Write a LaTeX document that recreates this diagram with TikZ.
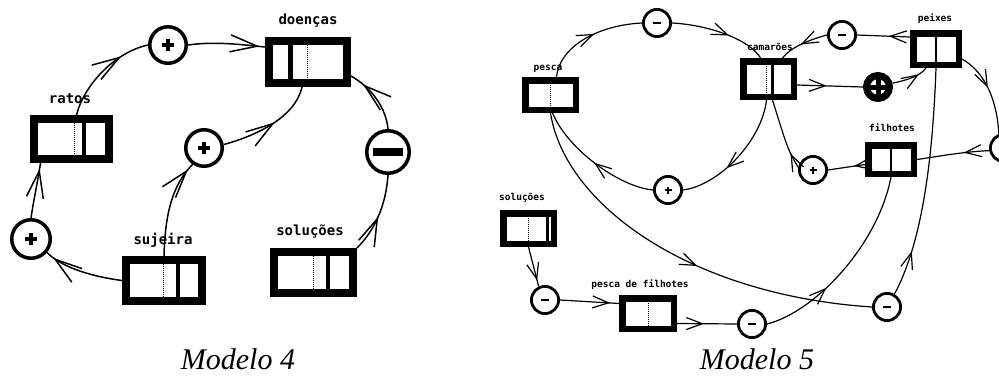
\documentclass[tikz,border=0pt]{standalone}
\usepackage{fontspec}
\setmainfont{Liberation Serif}
\newfontfamily\labmono{DejaVu Sans Mono}
\usetikzlibrary{arrows.meta,decorations.markings,calc}
\newcommand\mkplus[3]{\draw[line width=#3] ([xshift=-#2]#1.center) -- ([xshift=#2]#1.center) ([yshift=-#2]#1.center) -- ([yshift=#2]#1.center);}
\newcommand\mkminus[3]{\draw[line width=#3] ([xshift=-#2]#1.center) -- ([xshift=#2]#1.center);}
\tikzset{
  box4/.style={draw, fill=white, line width=8pt, inner sep=0pt},
  box5/.style={draw, fill=white, line width=6.5pt, inner sep=0pt},
  dv/.style={line width=1pt, densely dotted},
  lab4/.style={font=\labmono\bfseries\fontsize{14}{16}\selectfont, inner sep=0pt, anchor=base},
  lab5/.style={font=\labmono\bfseries\fontsize{9.5}{11}\selectfont, inner sep=0pt, anchor=base},
  mtitle/.style={font=\itshape\fontsize{30}{34}\selectfont, inner sep=0pt, anchor=base},
  c4/.style={circle, draw, fill=white, line width=3.5pt, inner sep=0pt, minimum size=#1},
  c5/.style={circle, draw, fill=white, line width=2.8pt, inner sep=0pt, minimum size=27.2pt},
  a4/.style={line width=1.5pt, postaction={decorate}, decoration={markings, mark=at position #1 with {\arrow{Straight Barb[length=27pt,width=17pt]}}}},
  a5/.style={line width=1.2pt, postaction={decorate}, decoration={markings, mark=at position #1 with {\arrow{Straight Barb[length=16pt,width=12pt]}}}},
}
\begin{document}
\begin{tikzpicture}[x=1pt,y=-1pt]
\useasboundingbox (0,0) rectangle (999,378);
% ---------------- Modelo 4 ----------------
\node[box4, minimum width=78pt, minimum height=42pt] (doencas) at (308,62) {};
\draw[line width=5pt] ([xshift=-18pt]doencas.north) -- ([xshift=-18pt]doencas.south);
\draw[dv] ([xshift=-1pt]doencas.north) -- ([xshift=-1pt]doencas.south);
\node[box4, minimum width=75pt, minimum height=40pt] (ratos) at (71.5,139) {};
\draw[dv] ([xshift=2.5pt]ratos.north) -- ([xshift=2.5pt]ratos.south);
\draw[line width=4pt] ([xshift=12.5pt]ratos.north) -- ([xshift=12.5pt]ratos.south);
\node[box4, minimum width=76pt, minimum height=41pt] (sujeira) at (164,280.5) {};
\draw[dv] ([xshift=-1pt]sujeira.north) -- ([xshift=-1pt]sujeira.south);
\draw[line width=4pt] ([xshift=14pt]sujeira.north) -- ([xshift=14pt]sujeira.south);
\node[box4, minimum width=79pt, minimum height=41pt] (solucoes) at (313.5,272.5) {};
\draw[dv] ([xshift=-0.5pt]solucoes.north) -- ([xshift=-0.5pt]solucoes.south);
\draw[line width=4pt] ([xshift=14.5pt]solucoes.north) -- ([xshift=14.5pt]solucoes.south);

\node[lab4] (Ldoencas) at (308,24) {doenças};
\node[lab4] (Lratos) at (70,103) {ratos};
\node[lab4] (Lsujeira) at (163,244) {sujeira};
\node[lab4] (Lsolucoes) at (310,235) {soluções};

\node[c4=36.5pt] (p1) at (168,45) {};
\node[c4=36.5pt] (p2) at (204,148) {};
\node[c4=38.5pt] (p3) at (31,239) {};
\node[c4=42.5pt] (m1) at (388,152) {};
\mkplus{p1}{6pt}{3.5pt}
\mkplus{p2}{6pt}{3.5pt}
\mkplus{p3}{6pt}{3.5pt}
\mkminus{m1}{15pt}{8pt}

\draw[a4=0.72] ([xshift=5pt]ratos.north) .. controls (84,85) and (115,52) .. (p1.west);
\draw[a4=0.93] (p1.east) .. controls (215,41) and (245,45) .. ([yshift=15pt]doencas.west);
\draw[a4=0.93] (sujeira.north) .. controls (165,215) and (172,185) .. (p2.235);
\draw[a4=0.55] (p2.10) .. controls (255,136) and (295,118) .. ([xshift=-6pt]doencas.south);
\draw[a4=0.47] (solucoes.north east) .. controls (375,230) and (386,205) .. (m1.south);
\draw[a4=0.78] (m1.north) .. controls (386,108) and (372,88) .. ([yshift=-14pt]doencas.east);
\draw[a4=0.9] (sujeira.west) .. controls (88,276) and (60,266) .. (p3.-40);
\draw[a4=0.9] (p3.north) .. controls (34,198) and (38,180) .. ([xshift=-31pt]ratos.south);

\node[mtitle] (t4) at (238,369) {Modelo 4};

% ---------------- Modelo 5 ----------------
\node[box5, minimum width=50.5pt, minimum height=29.5pt] (pesca) at (550.5,95) {};
\draw[dv] (pesca.north) -- (pesca.south);
\node[box5, minimum width=50.5pt, minimum height=35.5pt] (camaroes) at (768.5,79) {};
\draw[dv] ([xshift=-2.5pt]camaroes.north) -- ([xshift=-2.5pt]camaroes.south);
\draw[line width=3pt] ([xshift=3.5pt]camaroes.north) -- ([xshift=3.5pt]camaroes.south);
\node[box5, minimum width=45.5pt, minimum height=31.5pt] (peixes) at (936,49) {};
\draw[line width=2.5pt] (peixes.north) -- (peixes.south);
\node[box5, minimum width=45.5pt, minimum height=28.5pt] (filhotes) at (891,159.5) {};
\draw[line width=2.5pt] (filhotes.north) -- (filhotes.south);
\node[box5, minimum width=50.5pt, minimum height=30.5pt] (solucoesB) at (528.5,228.5) {};
\draw[dv] (solucoesB.north) -- (solucoesB.south);
\draw[line width=3pt] ([xshift=18.5pt]solucoesB.north) -- ([xshift=18.5pt]solucoesB.south);
\node[box5, minimum width=51.5pt, minimum height=30.5pt] (pescaF) at (648,313.5) {};
\draw[dv] (pescaF.north) -- (pescaF.south);

\node[lab5] (Lpesca) at (548,70) {pesca};
\node[lab5] (Lcamaroes) at (770,50) {camarões};
\node[lab5] (Lpeixes) at (935,21) {peixes};
\node[lab5] (Lfilhotes) at (892,131) {filhotes};
\node[lab5] (LsolucoesB) at (522,200) {soluções};
\node[lab5] (LpescaF) at (640,287) {pesca de filhotes};

\node[c5] (mA) at (657,23) {};
\node[c5] (mB) at (842,35) {};
\node[circle, draw, fill=white, line width=7pt, inner sep=0pt, minimum size=23pt] (pBold) at (878,87) {};
\node[c5] (pC) at (668,190) {};
\node[c5] (pD) at (813,170) {};
\node[c5] (mE) at (1004,148) {};
\node[c5] (mF) at (545,300) {};
\node[c5] (mG) at (752,324) {};
\node[c5] (mH) at (887,307) {};
\mkminus{mA}{4pt}{2.8pt}
\mkminus{mB}{4pt}{2.8pt}
\mkplus{pBold}{12pt}{5pt}
\mkplus{pC}{3.5pt}{2.6pt}
\mkplus{pD}{3.5pt}{2.6pt}
\mkminus{mE}{4pt}{2.8pt}
\mkminus{mF}{4pt}{2.8pt}
\mkminus{mG}{4pt}{2.8pt}
\mkminus{mH}{4pt}{2.8pt}

\draw[a5=0.55] ([xshift=6pt]pesca.north) .. controls (560,45) and (600,25) .. (mA.west);
\draw[a5=0.6] (mA.east) .. controls (710,25) and (750,40) .. ([xshift=-8pt]camaroes.north);
\draw[a5=0.55] (mB.west) .. controls (808,40) and (790,48) .. ([xshift=14pt]camaroes.north);
\draw[a5=0.4] ([yshift=12pt]peixes.west) -- (mB.east);
\draw[a5=0.45] ([yshift=-6pt]camaroes.east) -- (pBold.west);
\draw[a5=0.75] (pBold.15) .. controls (908,80) and (920,76) .. ([xshift=-10pt]peixes.south);
\draw[a5=0.45] ([yshift=-10pt]peixes.east) .. controls (985,72) and (997,100) .. (mE.110);
\draw[a5=0.35] (mE.190) .. controls (960,152) and (935,157) .. (filhotes.east);
\draw[a5=0.3] ([yshift=-5pt]filhotes.west) -- (pD.east);
\draw[a5=0.22] (pD.170) .. controls (788,150) .. ([xshift=4pt]camaroes.south);
\draw[a5=0.62] ([xshift=-2pt]camaroes.south) .. controls (762,140) and (720,185) .. (pC.east);
\draw[a5=0.5] (pC.west) .. controls (620,187) and (568,150) .. ([xshift=2pt]pesca.south);
\draw[a5=0.55] (pesca.south) .. controls (565,205) and (690,295) .. (mH.west);
\draw[a5=0.35] (mG.east) .. controls (815,312) and (878,245) .. (filhotes.south);
\draw[a5=0.2] (mH.60) .. controls (918,250) and (932,180) .. (peixes.south);
\draw[a5=0.85] (solucoesB.south) -- (mF.115);
\draw[a5=0.85] (mF.east) -- ([yshift=10pt]pescaF.west);
\draw[a5=0.45] ([yshift=-10pt]pescaF.east) -- (mG.west);

\node[mtitle] (t5) at (757,369) {Modelo 5};
\end{tikzpicture}
\end{document}
